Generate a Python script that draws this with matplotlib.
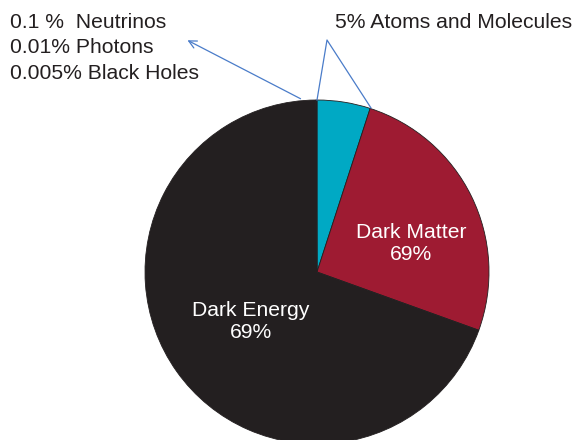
import matplotlib.pyplot as plt

# composition of the universe (percent), drawn clockwise from 12 o'clock
parts = ['Atoms and Molecules', 'Dark Matter', 'Dark Energy', 'Other']
shares = [5.0, 25.5, 69.4, 0.1]
colours = ['#00a9c4', '#9e1b32', '#231f20', '#231f20']

other_lines = ['0.1 %  Neutrinos', '0.01% Photons', '0.005% Black Holes']
atoms_label = '5% Atoms and Molecules'
matter_label = 'Dark Matter\n69%'
energy_label = 'Dark Energy\n69%'

W, H = 577, 440
fig = plt.figure(figsize=(W / 100, H / 100), dpi=100)
ax = fig.add_axes([0, 0, 1, 1])
plt.rcParams['font.family'] = ['Liberation Sans', 'DejaVu Sans']

cx, cy, rad = 317, H - 272, 172
wedges, _ = ax.pie(shares, colors=colours, startangle=90, counterclock=False,
                   center=(cx, cy), radius=rad,
                   wedgeprops=dict(edgecolor='#231f20', linewidth=0.6))

ax.set_xlim(0, W)
ax.set_ylim(0, H)
ax.set_aspect('equal')
ax.axis('off')

fs = 15.2
ax.text(411, H - 243, matter_label, color='white', fontsize=fs, ha='center', va='center',
        linespacing=1.2)
ax.text(251, H - 322, energy_label, color='white', fontsize=fs, ha='center', va='center',
        linespacing=1.2)

# leader lines
blue = '#4a7cc9'
ax.text(335, H - 22, atoms_label, fontsize=fs, color='#231f20', ha='left', va='center')
ax.plot([317, 327, 371], [H - 100, H - 40, H - 108], color=blue, lw=0.9)

for i, s in enumerate(other_lines):
    ax.text(10, H - 22 - i * 25.5, s, fontsize=fs, color='#231f20', ha='left', va='center')
ax.annotate('', xy=(185, H - 39), xytext=(303, H - 100),
            arrowprops=dict(arrowstyle='->', color=blue, lw=0.9, mutation_scale=14))

fig.savefig('out.png', dpi=100)
